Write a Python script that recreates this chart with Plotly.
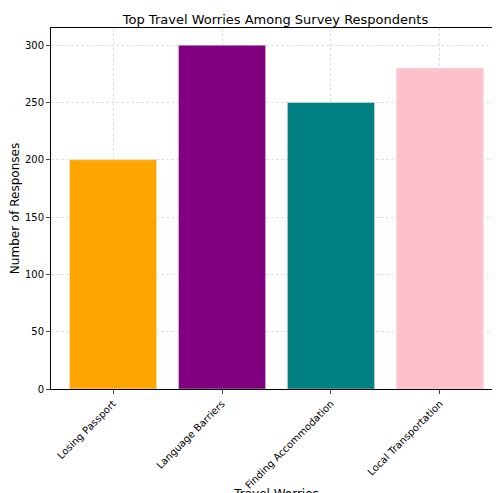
import plotly.graph_objects as go

categories = ["Losing Passport", "Language Barriers", "Finding Accommodation", "Local Transportation"]
values = [200, 300, 250, 280]
colors = ["orange", "purple", "teal", "pink"]

fig = go.Figure(go.Bar(x=categories, y=values, marker_color=colors, width=0.8))
fig.update_layout(
    width=500, height=493,
    margin=dict(l=43, r=6, t=20, b=112),
    plot_bgcolor="white", paper_bgcolor="white",
    font=dict(family="DejaVu Sans", size=10, color="black"),
    title=dict(text="Top Travel Worries Among Survey Respondents", x=0.535, xanchor="center", y=0.985, yanchor="top", font=dict(size=13)),
    showlegend=False,
)
axis_common = dict(showline=True, linecolor="black", mirror=True, ticks="outside", ticklen=4,
                   showgrid=True, gridcolor="#e0e0e0", griddash="3px,2px", gridwidth=1, automargin=False)
fig.update_xaxes(title_text="Travel Worries", title_standoff=5, tickangle=-45, range=[-0.57, 3.57], **axis_common)
fig.update_yaxes(title_text="Number of Responses", title_standoff=8, range=[0, 315], tickvals=[0, 50, 100, 150, 200, 250, 300], zeroline=False, **axis_common)
fig.write_html("out.html")
